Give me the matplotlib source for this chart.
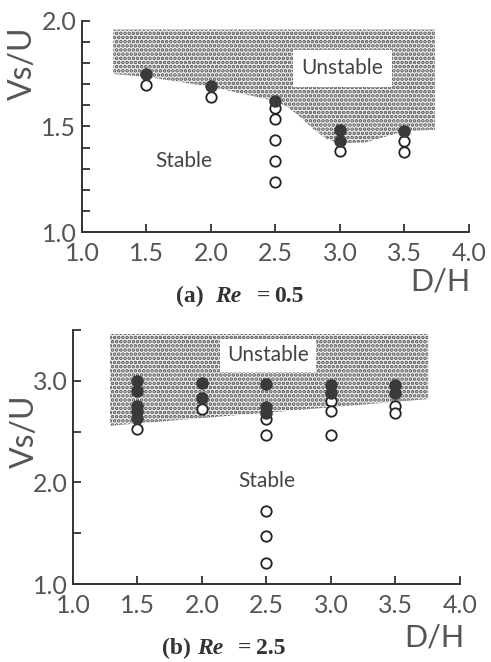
import numpy as np
import matplotlib
matplotlib.use('Agg')
import matplotlib.pyplot as plt
from matplotlib.ticker import MultipleLocator

plt.rcParams['font.family'] = ['Lato', 'DejaVu Sans']
plt.rcParams['hatch.color'] = '#555555'
plt.rcParams['hatch.linewidth'] = 1.8

# panel (a), Re = 0.5
a_filled_x = [1.5, 2.0, 2.5, 3.0, 3.0, 3.5]
a_filled_y = [1.748, 1.691, 1.621, 1.484, 1.433, 1.48]
a_open_x = [1.5, 2.0, 2.5, 2.5, 2.5, 2.5, 2.5, 3.0, 3.5, 3.5]
a_open_y = [1.696, 1.641, 1.586, 1.536, 1.437, 1.337, 1.237, 1.386, 1.433, 1.381]
# unstable region boundary (a)
a_zone_x = [1.243, 1.5, 2.0, 2.5, 2.6, 2.7, 2.8, 2.9, 3.0, 3.2, 3.4, 3.5, 3.736]
a_zone_low = [1.748, 1.735, 1.688, 1.62, 1.59, 1.54, 1.485, 1.44, 1.42, 1.425, 1.46, 1.478, 1.484]
a_zone_top = 1.959

# panel (b), Re = 2.5
b_filled_x = [1.5, 1.5, 1.5, 1.5, 1.5, 2.0, 2.0, 2.5, 2.5, 2.5, 3.0, 3.0, 3.5, 3.5]
b_filled_y = [3.0, 2.9, 2.75, 2.7, 2.63, 2.98, 2.83, 2.97, 2.74, 2.68, 2.96, 2.88, 2.96, 2.88]
b_open_x = [1.5, 2.0, 2.5, 2.5, 2.5, 2.5, 2.5, 3.0, 3.0, 3.0, 3.5, 3.5]
b_open_y = [2.53, 2.72, 2.62, 2.47, 1.72, 1.47, 1.21, 2.80, 2.70, 2.47, 2.75, 2.68]
b_zone_x = [1.287, 3.754]
b_zone_low = [2.557, 2.82]
b_zone_top = 3.46

x_ticks = [1.0, 1.5, 2.0, 2.5, 3.0, 3.5, 4.0]

fig = plt.figure(figsize=(4.91, 6.62), dpi=100)
ax1 = fig.add_axes([0.167, 0.6495, 0.788, 0.319])
ax2 = fig.add_axes([0.1487, 0.1178, 0.788, 0.3837])

lab_col = '#555555'


def style(ax, ylim, ymajor, yminor, ylabel_xy, xlabel_xy):
    ax.set_xlim(1.0, 4.0)
    ax.set_ylim(*ylim)
    for s in ['top', 'right']:
        ax.spines[s].set_visible(False)
    for s in ['left', 'bottom']:
        ax.spines[s].set_color('#333333')
        ax.spines[s].set_linewidth(1.4)
    ax.set_xticks(x_ticks)
    ax.set_xticklabels([f'{v:.1f}' for v in x_ticks])
    ax.yaxis.set_major_locator(MultipleLocator(ymajor))
    ax.yaxis.set_minor_locator(MultipleLocator(yminor))
    ax.yaxis.set_major_formatter(lambda v, p: f'{v:.1f}')
    ax.tick_params(direction='in', length=6, width=1.3, color='#333333',
                   labelsize=18, labelcolor=lab_col, pad=4)
    ax.tick_params(axis='x', pad=7)
    ax.tick_params(axis='y', which='minor', direction='in', length=6,
                   width=1.3, color='#333333')
    ax.set_ylabel('Vs/U', fontsize=23, color=lab_col)
    ax.yaxis.set_label_coords(*ylabel_xy)
    ax.set_xlabel('D/H', fontsize=22, color=lab_col)
    ax.xaxis.set_label_coords(*xlabel_xy)


# panel a
ax1.fill_between(a_zone_x, a_zone_low, a_zone_top, facecolor='#efefef',
                 edgecolor='none', hatch='....', zorder=1)
ax1.plot(a_open_x, a_open_y, 'o', ms=7.5, mfc='white', mec='#222222',
         mew=1.3, zorder=3)
ax1.plot(a_filled_x, a_filled_y, 'o', ms=8, mfc='#3a3a3a', mec='#3a3a3a',
         zorder=4)
ax1.text(3.02, 1.775, 'Unstable', fontsize=15, color='#444444', ha='center',
         va='center', bbox=dict(facecolor='white', edgecolor='none', pad=6),
         zorder=5)
ax1.text(1.79, 1.337, 'Stable', fontsize=15, color='#444444', ha='center',
         va='center', zorder=5)
style(ax1, (1.0, 2.0), 0.5, 0.1, (-0.114, 0.8), (0.925, -0.17))

# panel b
ax2.fill_between(b_zone_x, b_zone_low, b_zone_top, facecolor='#efefef',
                 edgecolor='none', hatch='....', zorder=1)
ax2.plot(b_open_x, b_open_y, 'o', ms=7.5, mfc='white', mec='#222222',
         mew=1.3, zorder=3)
ax2.plot(b_filled_x, b_filled_y, 'o', ms=8, mfc='#3a3a3a', mec='#3a3a3a',
         zorder=4)
ax2.text(2.51, 3.25, 'Unstable', fontsize=15, color='#444444', ha='center',
         va='center', bbox=dict(facecolor='white', edgecolor='none', pad=5),
         zorder=5)
ax2.text(2.5, 2.01, 'Stable', fontsize=15, color='#444444', ha='center',
         va='center', zorder=5)
style(ax2, (1.0, 3.5), 1.0, 0.5, (-0.085, 0.6), (0.935, -0.155))

# captions
W, H = 491.0, 662.0
cap = dict(fontsize=17, color='#333333', va='center', family='Liberation Serif',
           fontweight='bold')
fig.text(176 / W, 1 - 296 / H, '(a)', **cap)
fig.text(215 / W, 1 - 296 / H, 'Re', style='italic', **cap)
fig.text(257 / W, 1 - 296 / H, '=', **cap)
fig.text(274 / W, 1 - 296 / H, '0.5', **cap)
fig.text(162 / W, 1 - 648 / H, '(b)', **cap)
fig.text(197 / W, 1 - 648 / H, 'Re', style='italic', **cap)
fig.text(238 / W, 1 - 648 / H, '=', **cap)
fig.text(256 / W, 1 - 648 / H, '2.5', **cap)

fig.savefig('out.png', dpi=100)
